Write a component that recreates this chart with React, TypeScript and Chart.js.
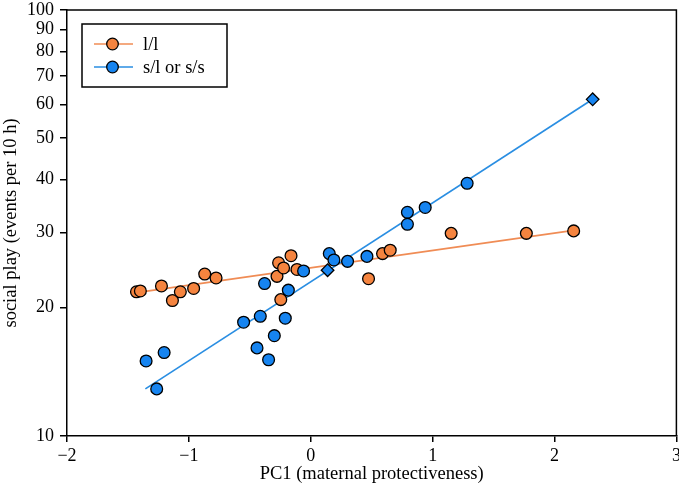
import React, { useEffect, useRef } from "react";
import { Chart, registerables } from "chart.js";

Chart.register(...registerables);

// l/l group
const orangeX = [-1.43, -1.398, -1.225, -1.135, -1.07, -0.961, -0.87, -0.777, -0.277, -0.264, -0.223, -0.162, -0.246, -0.113, 0.474, 0.589, 0.652, 1.152, 1.769, 2.157];
const orangeY = [21.8, 21.9, 22.5, 20.8, 21.8, 22.2, 24.0, 23.5, 23.7, 25.5, 24.8, 26.5, 20.9, 24.6, 23.4, 26.8, 27.3, 29.9, 29.9, 30.3];
// s/l or s/s group
const blueX = [-1.351, -1.203, -1.264, -0.551, -0.414, -0.379, -0.441, -0.346, -0.299, -0.209, -0.184, -0.059, 0.152, 0.19, 0.302, 0.461, 0.793, 0.793, 0.939, 1.283];
const blueY = [15.0, 15.7, 12.9, 18.5, 19.1, 22.8, 16.1, 15.1, 17.2, 18.9, 22.0, 24.4, 26.8, 25.9, 25.7, 26.4, 33.5, 31.4, 34.4, 39.2];
const blueDiamondX = [0.138, 2.313];
const blueDiamondY = [24.5, 61.7];
// fitted lines
const orangeFitX = [-1.43, 2.157];
const orangeFitY = [21.7, 30.4];
const blueFitX = [-1.357, 2.313];
const blueFitY = [12.9, 61.7];

const xTicks = [-2, -1, 0, 1, 2, 3];
const yTicks = [10, 20, 30, 40, 50, 60, 70, 80, 90, 100];

const legendLabels = ["l/l", "s/l or s/s"];

const ORANGE_FILL = "#f5843f";
const ORANGE_LINE = "#f08c55";
const BLUE_FILL = "#1684f0";
const BLUE_LINE = "#2a8ee2";
const FONT_FAMILY = '"Liberation Serif", "Times New Roman", serif';

const pts = (xs: number[], ys: number[]) => xs.map((x, i) => ({ x, y: ys[i] }));

const framePlugin = {
  id: "frame",
  beforeDatasetsDraw(chart: any) {
    const { ctx, chartArea } = chart;
    ctx.save();
    ctx.strokeStyle = "#000";
    ctx.lineWidth = 1.5;
    ctx.beginPath();
    ctx.moveTo(chartArea.left, chartArea.top);
    ctx.lineTo(chartArea.right, chartArea.top);
    ctx.lineTo(chartArea.right, chartArea.bottom);
    ctx.stroke();
    ctx.restore();
  },
};

const legendPlugin = {
  id: "boxLegend",
  afterDatasetsDraw(chart: any) {
    const { ctx, chartArea } = chart;
    const l = chartArea.left + 15;
    const t = chartArea.top + 14;
    const w = 145;
    const h = 63;
    ctx.save();
    ctx.fillStyle = "#fff";
    ctx.fillRect(l, t, w, h);
    ctx.strokeStyle = "#000";
    ctx.lineWidth = 1.5;
    ctx.strokeRect(l, t, w, h);
    const rows = [
      { y: t + 20, fill: ORANGE_FILL, line: ORANGE_LINE, text: legendLabels[0] },
      { y: t + 43, fill: BLUE_FILL, line: BLUE_LINE, text: legendLabels[1] },
    ];
    rows.forEach((r) => {
      ctx.strokeStyle = r.line;
      ctx.lineWidth = 1.6;
      ctx.beginPath();
      ctx.moveTo(l + 12, r.y);
      ctx.lineTo(l + 51, r.y);
      ctx.stroke();
      ctx.beginPath();
      ctx.arc(l + 30.5, r.y, 5.8, 0, Math.PI * 2);
      ctx.fillStyle = r.fill;
      ctx.fill();
      ctx.strokeStyle = "#000";
      ctx.lineWidth = 1.3;
      ctx.stroke();
      ctx.fillStyle = "#000";
      ctx.font = `18.5px ${FONT_FAMILY}`;
      ctx.textBaseline = "middle";
      ctx.textAlign = "left";
      ctx.fillText(r.text, l + 61, r.y + 1);
    });
    ctx.restore();
  },
};

export default function App() {
  const ref = useRef<HTMLCanvasElement | null>(null);
  useEffect(() => {
    if (!ref.current) return;
    const tickFont = { family: FONT_FAMILY, size: 18 };
    const titleFont = { family: FONT_FAMILY, size: 18.5 };
    const chart = new Chart(ref.current, {
      type: "scatter",
      data: {
        datasets: [
          {
            label: "s/l or s/s",
            data: pts(blueX, blueY),
            backgroundColor: BLUE_FILL,
            borderColor: "#000",
            borderWidth: 1.3,
            pointRadius: 5.9,
            pointStyle: "circle",
            order: 0,
          },
          {
            label: "s/l or s/s diamonds",
            data: pts(blueDiamondX, blueDiamondY),
            backgroundColor: BLUE_FILL,
            borderColor: "#000",
            borderWidth: 1.3,
            pointRadius: 6.3,
            pointStyle: "rectRot",
            order: 0,
          },
          {
            label: "l/l",
            data: pts(orangeX, orangeY),
            backgroundColor: ORANGE_FILL,
            borderColor: "#000",
            borderWidth: 1.3,
            pointRadius: 5.9,
            pointStyle: "circle",
            order: 1,
          },
          {
            label: "blue fit",
            data: pts(blueFitX, blueFitY),
            showLine: true,
            borderColor: BLUE_LINE,
            borderWidth: 1.7,
            pointRadius: 0,
            order: 2,
          },
          {
            label: "orange fit",
            data: pts(orangeFitX, orangeFitY),
            showLine: true,
            borderColor: ORANGE_LINE,
            borderWidth: 1.7,
            pointRadius: 0,
            order: 3,
          },
        ],
      },
      options: {
        responsive: false,
        animation: false,
        devicePixelRatio: 1,
        layout: { padding: { top: 10, right: 0, left: 0, bottom: 0 } },
        plugins: {
          legend: { display: false },
          tooltip: { enabled: false },
        },
        scales: {
          x: {
            type: "linear",
            min: -2,
            max: 3,
            afterBuildTicks: (s: any) => {
              s.ticks = xTicks.map((v) => ({ value: v }));
            },
            afterFit: (s: any) => {
              s.height = 55;
            },
            ticks: {
              font: tickFont,
              color: "#000",
              padding: 3,
              maxRotation: 0,
              callback: (v: any) => String(v).replace("-", "\u2212"),
            },
            grid: {
              drawOnChartArea: false,
              drawTicks: true,
              tickLength: 6,
              color: "#000",
              lineWidth: 1.5,
            },
            border: { display: true, color: "#000", width: 1.5 },
            title: {
              display: true,
              text: "PC1 (maternal protectiveness)",
              font: titleFont,
              color: "#000",
              padding: { top: 0, bottom: 6 },
            },
          },
          y: {
            type: "logarithmic",
            min: 10,
            max: 100,
            afterBuildTicks: (s: any) => {
              s.ticks = yTicks.map((v) => ({ value: v }));
            },
            afterFit: (s: any) => {
              s.width = 67;
              s.paddingTop = 0;
              s.paddingBottom = 0;
            },
            ticks: {
              font: tickFont,
              color: "#000",
              padding: 6,
              callback: (v: any) => String(v),
            },
            grid: {
              drawOnChartArea: false,
              drawTicks: true,
              tickLength: 7,
              color: "#000",
              lineWidth: 1.5,
            },
            border: { display: true, color: "#000", width: 1.5 },
            title: {
              display: true,
              text: "social play (events per 10 h)",
              font: titleFont,
              color: "#000",
              padding: { top: 0, bottom: 0 },
            },
          },
        },
      },
      plugins: [framePlugin, legendPlugin],
    } as any);
    return () => chart.destroy();
  }, []);
  return (
    <div style={{ position: "absolute", left: 0, top: 0, width: 679, height: 491, overflow: "hidden", background: "#fff" }}>
      <canvas ref={ref} width={684} height={491} style={{ width: 684, height: 491, display: "block" }} />
    </div>
  );
}
